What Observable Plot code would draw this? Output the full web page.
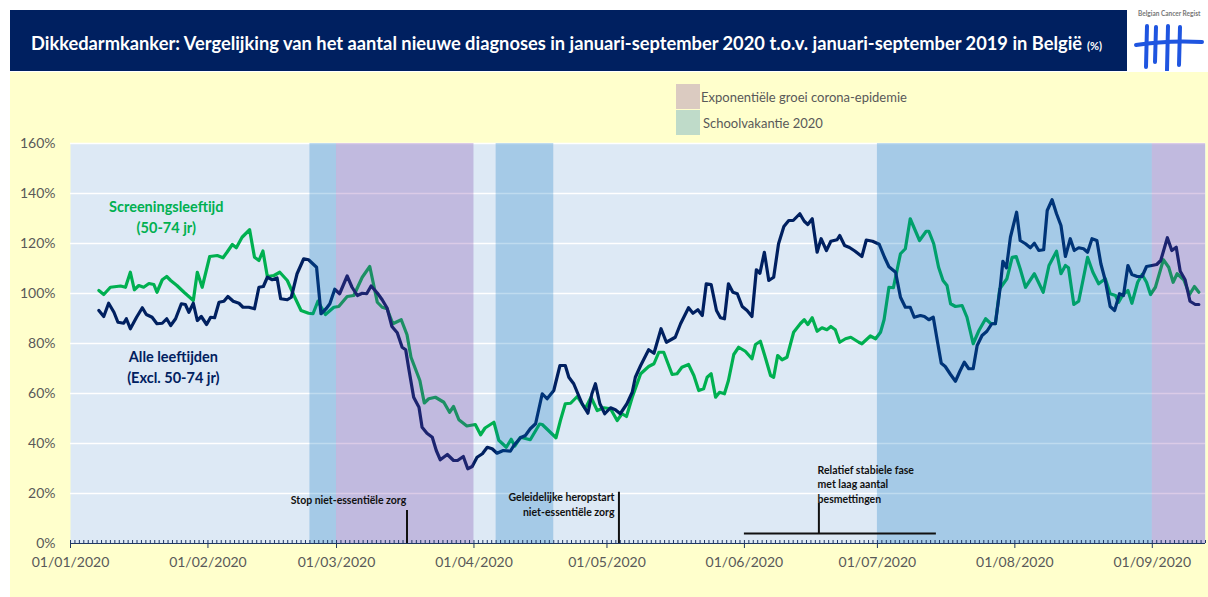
<!DOCTYPE html>
<html><head><meta charset="utf-8">
<script src="https://cdn.jsdelivr.net/npm/d3@7"></script>
<script src="https://cdn.jsdelivr.net/npm/@observablehq/plot@0.6"></script>
<style>
body{margin:0;width:1208px;height:597px;position:relative;background:#fff;font-family:Lato,"Open Sans",sans-serif;overflow:hidden}
#panel{position:absolute;left:10px;top:72px;width:1198px;height:525px;background:#ffffcc}
#titlebar{position:absolute;left:10px;top:10px;width:1117px;height:61px;background:#002060}
#title{position:absolute;left:21px;top:33px;transform:translateY(-50%);color:#fff;font-weight:bold;font-size:16px;white-space:nowrap}
#title small{font-size:11px;margin-left:5px}
#chart{position:absolute;left:10px;top:72px}
#logo{position:absolute;left:1128px;top:0;width:80px;height:71px;background:#fff}
.sw{position:absolute;left:676px;width:24px;height:25px}
.lg{position:absolute;left:701px;color:#595959;font-size:13px;transform:translateY(-50%);white-space:nowrap}
</style></head>
<body>
<div id="panel"></div>
<div id="titlebar"><div id="title"><span id="tmain">Dikkedarmkanker: Vergelijking van het aantal nieuwe diagnoses in januari-september 2020 t.o.v. januari-september 2019 in België</span><small>(%)</small></div></div>
<div id="logo"><svg width="80" height="71">
<text x="10" y="16" font-size="6.5" font-weight="bold" fill="#777" font-family="Lato">Belgian Cancer Regist</text>
<g stroke="#1f55e0" stroke-linecap="round" fill="none">
<path d="M19 26 L18 67" stroke-width="4"/>
<path d="M28 27 L27 62" stroke-width="4"/>
<path d="M40 26 L39 70" stroke-width="4"/>
<path d="M52 27 L51 65" stroke-width="4"/>
<path d="M8 45 Q40 40 74 42" stroke-width="4"/>
</g></svg></div>
<div class="sw" style="top:84px;background:rgba(112,48,160,0.25)"></div>
<div class="sw" style="top:110px;background:rgba(0,112,192,0.25)"></div>
<div class="lg" style="top:97px">Exponentiële groei corona-epidemie</div>
<div class="lg" style="top:123px;left:703px">Schoolvakantie 2020</div>
<div id="chart"></div>
<script>
// days since 1 Jan 2020 and % of 2019 level
const greenDay = [6.4,7.5,9,11.3,12.4,13.5,14.4,15.4,16.5,17.7,18.8,19.5,20.7,21.7,22.6,24,25.6,27.7,28.6,29.7,31.4,33.1,34.4,35.3,36.5,37.4,38.7,40.4,41.5,42.5,43.4,44.4,45.9,47.2,48.9,50.4,52,53.7,54.7,55.8,57.5,59.4,60.5,62.4,63.9,65.8,67.5,69.2,70.3,71.4,72.7,74.6,75.9,76.8,78.8,79.8,80.8,82.3,84.2,85.5,86.4,87.6,89.4,91.3,92.5,93.5,95.5,96.6,98.3,99.4,100.2,101.5,103.7,105.8,106.4,109.5,110.5,111.6,112.8,114.3,116.1,117.4,118.8,120.3,121.8,123.3,124.4,125.4,126.7,128.6,130.4,131.6,132.7,133.8,135.7,136.8,137.9,139.4,140.6,141.7,142.8,143.6,144.5,145.5,146.4,147.5,148.4,149.6,150.7,152.2,153.7,154.5,155.6,156.7,157.9,158.6,159.5,160.5,161.6,163.1,164.6,165.5,166.3,167.3,168.4,169.5,170.6,171.5,172.5,173.5,174.8,176,177.8,178.5,180.4,181.6,182.7,183.5,184.6,185.6,187.2,188.3,189.4,191.5,193,193.6,194.7,195.8,196.8,197.7,198.5,199.6,201.1,202.2,203.6,204.9,206.4,207.5,208.6,209.6,211.2,212.4,213.3,214.2,215.4,217.4,219.4,220.7,222.4,223.4,224.4,225.1,226.3,227.4,228.5,229.4,230.6,231.9,233.4,234.5,235.7,236.4,237.4,238.5,239.4,240.7,241.7,242.7,243.6,244.7,246.5,247.7,248.7,249.6,251.1,252.4,253.5,254.5];
const greenVal = [101.2,99.6,102.5,103,102.5,108.5,101.5,103.2,102.5,104,103.6,100.5,105.5,106.8,105.2,103.2,100.5,97.2,108.5,102.5,114.8,115.2,114.3,116.5,119.6,118.3,122.5,125.5,114.5,113.2,117,106.8,107.2,108.5,105.2,99.2,93.2,92.1,91.9,96.9,91.6,94.5,94.8,98.8,99.2,106.5,110.8,96.5,94.5,93.9,87.9,89.5,83.5,74.5,65.2,56.2,57.9,58.5,56.5,52.5,54.8,49.5,47,47.6,43.5,46.2,48.5,41.3,38.5,41.7,39,42.5,41.5,47.8,47.6,42.3,49.2,55.9,56.1,58.8,53.9,58.5,53.2,54.3,53.9,49.2,51.9,50.8,58.5,67.9,70.8,71.9,76.5,76.5,67.6,67.9,70.5,71.6,67.2,61.2,61.9,66.5,67.9,58.5,60.5,59.9,65.2,75.6,78.5,76.9,73.9,79.6,80.9,74.5,67.2,66.5,75.2,73.5,74.5,84.5,87.9,89.5,87.6,90.3,84.9,86.3,85.5,86.8,85.5,80.5,81.9,82.5,80.5,79.9,83,81.9,84.5,89.5,102.5,102.3,115.9,117.9,129.9,121.2,124.9,124.9,119.9,110.5,105.2,103.2,95.9,94.8,95.2,90.5,79.9,85.2,89.9,88.1,87.9,101.9,105.9,114.5,114.8,109.9,102.5,107.9,100.5,111.2,116.9,107.9,111.2,110.3,95.6,96.9,106.5,114.5,108.5,103.9,105.9,99.9,99.2,96.5,99.6,101.2,96.1,104.5,107.6,104.5,99.6,102.5,113.5,110.5,104.5,107.9,105.5,99.6,102.8,100.5];
const navyDay = [6.4,7.5,8.6,9.8,10.7,12,12.6,13.5,14.9,16.2,17.1,18.4,19.5,20.7,21.7,22.6,23.7,25,25.9,26.7,27.7,28.6,29.5,30.7,31.6,32.5,33.5,34.6,35.5,36.7,38,38.9,40.2,41.5,42.5,43.5,44.4,45.5,46.6,47.4,48.9,49.8,51.1,52.6,53.7,55.5,56.5,57.7,58.5,59.6,60.7,62.4,63.5,64.7,65.8,66.8,67.8,69.2,70.3,71.4,72.5,73.7,74.8,75.6,76.3,77.4,78.6,79.3,80.4,81.6,82.5,83.4,85,86.4,87.3,88.6,89.6,90.6,91.7,92.9,94,95.1,96.2,97.6,99.2,100,101.5,102.6,103.7,104.9,106.4,107.5,109,110.4,111.6,112.4,113.5,114.3,115.4,116.7,117.6,118.4,119.4,120.5,121.8,122.9,124,125.5,126.7,127.4,128.6,130.4,131.6,133.2,134.4,136.4,137.6,139.4,140.4,141.5,142.5,143.4,144.5,145.7,146.6,147.5,148.4,149.4,150.4,151.5,152.6,153.7,154.7,155.5,156.5,157.5,158.6,159.7,160.9,162,163,164.5,165.5,166.3,167.3,168.4,169.3,170.5,171.5,172.9,173.5,174.6,175.7,176.9,178.5,179.5,180.9,182.4,183.6,184.6,186.1,187.2,188.3,189.4,190.3,191.7,192.6,193.6,194.6,195.5,196.4,197.3,198.5,199.6,200.6,201.6,202.6,203.6,204.5,205.6,206.7,207.8,208.6,209.7,210.3,211.1,212,213.4,214.2,215.4,216.5,217.4,218.4,219.5,220.3,221.4,222.4,223.4,224.4,225.5,226.4,227.4,228.5,229.4,230.4,231.5,232.4,233.4,234.5,235.5,236.6,237.5,238.5,239.4,240.6,241.7,242.7,243.9,245,245.9,247.4,248.4,249.4,250.3,251.4,252.5,253.7,254.5];
const navyVal = [93.2,90.8,96.1,92.5,88.5,88.1,89.9,85.9,90.5,94.3,91.6,90.5,87.9,88.1,89.9,87.2,89.9,95.9,95.6,92.5,96.1,89.2,90.8,87.6,90.5,90.3,96.5,96.9,98.8,96.9,96.1,94.5,94.5,93.9,102.5,102.8,106.5,105.5,106.2,97.9,97.5,98.5,107.9,113.9,113.5,110.5,91.9,94,95.9,101.7,99.9,107,102.5,99.2,100.1,99.9,103,100.2,97.5,94.2,86.8,84.3,78.5,77.5,69.9,58.5,54.5,46.5,44.1,42.5,37.2,33.5,35.6,33.2,33.2,34.8,29.9,30.8,34.5,35.9,38.5,37.9,36.1,37.2,36.9,39.2,42.3,43.2,45.9,47.9,59.9,57.9,61.2,71.2,71.2,66.5,63.9,60.5,55.9,52.1,59.9,63.9,55.9,51.9,54.3,53.5,51.9,55.9,60.5,66.5,71.2,77.5,76.1,85.9,80.5,82.5,87.9,94.3,92.1,93.5,91.2,103.9,103.6,93.2,90.3,89.9,103.9,100.5,99.9,94.8,93.2,90.8,109.5,108.1,116.5,105.2,106.5,119.9,126.8,129.2,129.2,131.9,128.9,127.6,129.9,116.5,121.9,117.2,120.9,121.5,123.2,119.2,118.4,117,114.8,121.4,120.9,119.7,114.5,110.7,108.5,98.5,94.5,94.5,90.5,91.2,90.8,89.5,90.5,81.2,72.1,70.8,67.6,64.9,68.9,72.5,69.9,69.9,79.2,83.2,84.9,87.9,87.9,102.5,112.9,110.3,122.5,132.5,121.2,119.9,118.3,120.1,117.2,117.5,133.2,137.5,131.9,127.2,114.8,121.9,117.2,118.3,117.9,116.5,121.9,121.2,111.9,105.2,94.8,93.2,99.9,99.2,111.2,107.6,106.8,106.8,110.8,111.2,111.6,113.2,122.3,117.2,118.5,108.9,105.5,96.9,95.6,95.6];

// shaded periods (day offsets)
const vacationStart = [54, 96, 182];
const vacationEnd   = [60, 109, 244];
const growthStart = [60, 244];
const growthEnd   = [91, 256];

const yTicks = [0,20,40,60,80,100,120,140,160];

const seriesLabel = ["Screeningsleeftijd\n(50-74 jr)", "Alle leeftijden\n(Excl. 50-74 jr)"];
const seriesLabelDay = [21.6, 23.2];
const seriesLabelVal = [131.2, 71.2];

const noteText = ["Stop niet-essentiële zorg", "Geleidelijke heropstart\nniet-essentiële zorg", "Relatief stabiele fase\nmet laag aantal\nbesmettingen"];
const noteDay = [62.7, 122.7, 168.5];
const noteVal = [17.6, 15.8, 24];
const noteAnchor = ["middle", "end", "start"];
const markerDay = [75.9, 123.7, 168.8];
const markerTop = [13.2, 20.5, 16];
const markerBottom = [0, 0, 4];
const stableStart = 152, stableEnd = 195.3, stableLevel = 4;

const t0 = Date.UTC(2020,0,1);
const toDate = d => new Date(t0 + d*864e5);
const green = greenDay.map((d,i)=>({date: toDate(d), value: greenVal[i]}));
const navy = navyDay.map((d,i)=>({date: toDate(d), value: navyVal[i]}));
const vac = vacationStart.map((s,i)=>({a: toDate(s), b: toDate(vacationEnd[i])}));
const grow = growthStart.map((s,i)=>({a: toDate(s), b: toDate(growthEnd[i])}));
const labels = seriesLabel.map((t,i)=>({t, date: toDate(seriesLabelDay[i]), v: seriesLabelVal[i]}));
const notes = noteText.map((t,i)=>({t, date: toDate(noteDay[i]), v: noteVal[i], anchor: noteAnchor[i]}));
const markers = markerDay.map((d,i)=>({date: toDate(d), top: markerTop[i], bottom: markerBottom[i]}));

const NAVY = "#002060", GREEN = "#00b050", GRAY = "#595959", AXIS = "#203864";
const noteMark = anchor => Plot.text(notes.filter(d => d.anchor === anchor), {x: "date", y: "v", text: "t", textAnchor: anchor, fill: "#111", fontSize: 10.5, fontWeight: "bold", lineHeight: 1.4});

const chart = Plot.plot({
  width: 1198, height: 525,
  marginLeft: 60, marginRight: 3, marginTop: 71, marginBottom: 54,
  style: {background: "transparent", fontFamily: "Lato, sans-serif", overflow: "visible"},
  x: {type: "utc", domain: [toDate(0), toDate(256)]},
  y: {domain: [0, 160]},
  marks: [
    Plot.frame({fill: "#dde9f5", stroke: null}),
    Plot.ruleY(yTicks.slice(1), {stroke: "#ffffff", strokeWidth: 1.5}),
    Plot.line(green, {x: "date", y: "value", stroke: GREEN, strokeWidth: 3.2, strokeLinejoin: "round"}),
    Plot.line(navy, {x: "date", y: "value", stroke: NAVY, strokeWidth: 3.2, strokeLinejoin: "round"}),
    Plot.rect(vac, {x1: "a", x2: "b", fill: "#0070c0", fillOpacity: 0.25}),
    Plot.rect(grow, {x1: "a", x2: "b", fill: "#7030a0", fillOpacity: 0.25}),
    Plot.ruleY([0], {stroke: AXIS, strokeWidth: 1.2}),
    Plot.axisX({ticks: d3.utcDay, tickSize: 3, dy: -3, tickFormat: () => "", stroke: AXIS, label: null}),
    Plot.axisX({ticks: d3.utcMonth, tickSize: 5, tickPadding: 9, tickFormat: d3.utcFormat("%d/%m/%Y"), stroke: AXIS, fill: GRAY, fontSize: 14, label: null}),
    Plot.axisY({ticks: yTicks, tickSize: 0, tickPadding: 15, tickFormat: d => d + "%", fill: GRAY, fontSize: 14, label: null}),
    Plot.text(labels, {x: "date", y: "v", text: "t", fill: (d,i) => i === 0 ? GREEN : NAVY, fontSize: 14.5, fontWeight: "bold", lineHeight: 1.45}),
    noteMark("middle"),
    noteMark("end"),
    noteMark("start"),
    Plot.ruleX(markers, {x: "date", y1: "bottom", y2: "top", stroke: "#111", strokeWidth: 2}),
    Plot.ruleY([stableLevel], {x1: toDate(stableStart), x2: toDate(stableEnd), stroke: "#111", strokeWidth: 2})
  ]
});
document.getElementById("chart").appendChild(chart);

// fit title to reference width
const tm = document.getElementById("tmain");
const target = 1052;
const w = tm.getBoundingClientRect().width;
tm.style.fontSize = (16 * target / w) + "px";
</script>
</body></html>
